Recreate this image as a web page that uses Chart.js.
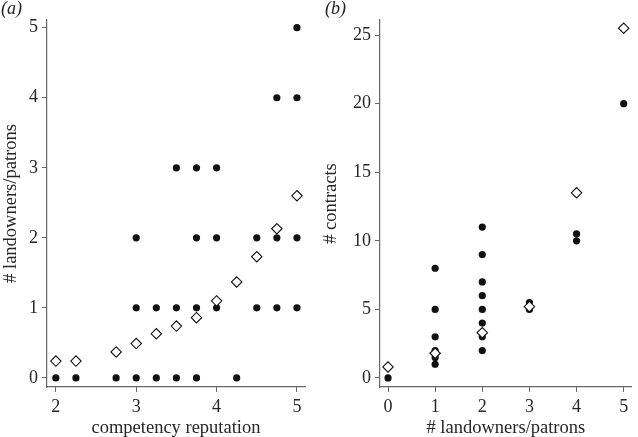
<!DOCTYPE html>
<html>
<head>
<meta charset="utf-8">
<script src="https://cdn.jsdelivr.net/npm/chart.js@4.4.1/dist/chart.umd.min.js"></script>
<style>
  body { margin: 0; background: #fff; }
  #wrap { position: relative; width: 638px; height: 437px; }
  canvas { position: absolute; top: 0; }
  #c1 { left: 0; }
  #c2 { left: 320px; }
  .lbl { position: absolute; top: -2px; font-family: "Liberation Serif", serif; font-style: italic; font-size: 18px; color: #222; }
</style>
</head>
<body>
<div id="wrap">
  <canvas id="c1" width="318" height="437"></canvas>
  <canvas id="c2" width="318" height="437"></canvas>
  <div class="lbl" style="left:1px">(a)</div>
  <div class="lbl" style="left:325px">(b)</div>
</div>
<script>
// panel (a): competency reputation vs number of landowners/patrons
var repX = [2, 2.25, 2.75, 3, 3, 3, 3.25, 3.25, 3.5, 3.5, 3.5, 3.75, 3.75, 3.75, 3.75, 4, 4, 4, 4.25, 4.5, 4.5, 4.75, 4.75, 4.75, 5, 5, 5, 5];
var repY = [0, 0, 0, 0, 1, 2, 0, 1, 0, 1, 3, 0, 1, 2, 3, 1, 2, 3, 0, 1, 2, 1, 2, 4, 1, 2, 4, 5];
var repMeanX = [2, 2.25, 2.75, 3, 3.25, 3.5, 3.75, 4, 4.25, 4.5, 4.75, 5];
var repMeanY = [0.24, 0.24, 0.37, 0.49, 0.63, 0.74, 0.86, 1.1, 1.37, 1.73, 2.13, 2.6];
var ticksAX = [2, 3, 4, 5];
var ticksAY = [0, 1, 2, 3, 4, 5];

// panel (b): number of landowners/patrons vs number of contracts
var patX = [0, 1, 1, 1, 1, 1, 1, 2, 2, 2, 2, 2, 2, 2, 2, 3, 3, 4, 4, 5];
var patY = [0, 8, 5, 3, 2, 1.5, 1, 11, 9, 7, 6, 5, 4, 3, 2, 5.5, 5, 10.5, 10, 20];
var patMeanX = [0, 1, 2, 3, 4, 5];
var patMeanY = [0.8, 1.8, 3.3, 5.2, 13.5, 25.5];
var ticksBX = [0, 1, 2, 3, 4, 5];
var ticksBY = [0, 5, 10, 15, 20, 25];

var serif = "'Liberation Serif', 'Times New Roman', serif";
var axisCol = '#666';
var textCol = '#262626';

function pts(xs, ys) {
    var out = [];
    for (var i = 0; i < xs.length; i++) out.push({ x: xs[i], y: ys[i] });
    return out;
}

function eje(pos, min, max, ticks, titulo, ancho) {
    return {
        type: 'linear',
        position: pos,
        min: min,
        max: max,
        afterBuildTicks: function (s) { s.ticks = ticks.map(function (v) { return { value: v }; }); },
        afterFit: function (s) {
            if (pos === 'left') s.width = ancho; else s.height = ancho;
        },
        grid: { display: true, drawOnChartArea: false, drawTicks: true, tickLength: 5, color: axisCol, lineWidth: 1 },
        border: { display: true, color: axisCol, width: 1.2 },
        ticks: { color: textCol, font: { family: serif, size: 18 }, padding: 4, maxRotation: 0, autoSkip: false },
        title: { display: true, text: titulo, color: textCol, font: { family: serif, size: 18.5 },
                 padding: pos === 'left' ? 0 : { top: 0, bottom: -2 } }
    };
}

function grafico(id, puntos, medias, ejeX, ejeY, pad) {
    return new Chart(document.getElementById(id), {
        type: 'scatter',
        data: {
            datasets: [{
                data: medias,
                pointStyle: 'rectRot',
                pointRadius: 5.2,
                backgroundColor: '#fff',
                borderColor: '#111',
                borderWidth: 1.1,
                order: 0
            }, {
                data: puntos,
                pointStyle: 'circle',
                pointRadius: 3.6,
                backgroundColor: '#111',
                borderColor: '#111',
                borderWidth: 0,
                order: 1
            }]
        },
        options: {
            responsive: false,
            animation: false,
            layout: { padding: pad },
            plugins: { legend: { display: false }, tooltip: { enabled: false } },
            scales: { x: ejeX, y: ejeY }
        }
    });
}

grafico('c1', pts(repX, repY), pts(repMeanX, repMeanY),
    eje('bottom', 1.89, 5.1, ticksAX, 'competency reputation', 50),
    eje('left', -0.13, 5.11, ticksAY, '# landowners/patrons', 47),
    { left: 0, right: 13, top: 20, bottom: 0 });

grafico('c2', pts(patX, patY), pts(patMeanX, patMeanY),
    eje('bottom', -0.17, 5.17, ticksBX, '# landowners/patrons', 50),
    eje('left', -0.66, 26.1, ticksBY, '# contracts', 60),
    { left: 0, right: 1, top: 20, bottom: 0 });
</script>
</body>
</html>
